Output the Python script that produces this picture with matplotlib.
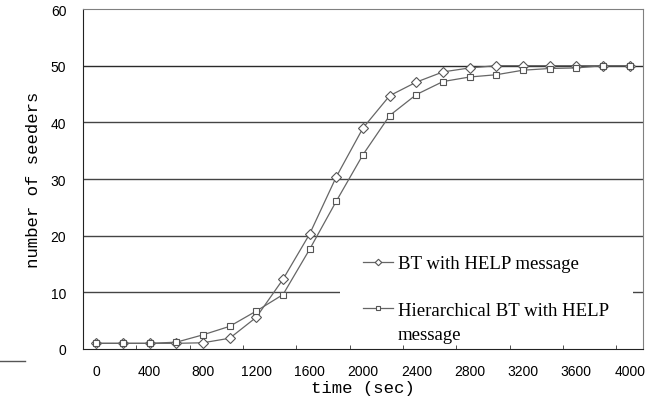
import matplotlib
matplotlib.use("Agg")
import matplotlib.pyplot as plt
from matplotlib.lines import Line2D
from matplotlib.patches import Rectangle

# time axis (sec) and number of seeders for both runs
times = [0, 200, 400, 600, 800, 1000, 1200, 1400, 1600, 1800, 2000,
         2200, 2400, 2600, 2800, 3000, 3200, 3400, 3600, 3800, 4000]
bt_help = [1, 1, 1, 1, 1.1, 1.9, 5.6, 12.3, 20.3, 30.4, 39,
           44.7, 47.1, 48.9, 49.6, 50, 50, 50, 50, 50, 50]
hier_bt_help = [1, 1, 1, 1.2, 2.5, 4, 6.7, 9.6, 17.6, 26.1, 34.3,
                41.2, 44.9, 47.2, 48, 48.4, 49.2, 49.5, 49.6, 50, 50]

x_labels = list(range(0, 4001, 400))
x_minor = list(range(300, 4000, 400))
y_ticks = list(range(0, 61, 10))

fig = plt.figure(figsize=(6.48, 4.02), dpi=100)
ax = fig.add_axes([83 / 648, 1 - 350 / 402, 560 / 648, 340 / 402])

# horizontal grid lines
for yv in y_ticks[1:-1]:
    ax.axhline(yv, color='#2a2a2a' if yv == 50 else '#444444', lw=1.0, zorder=1)

ax.plot(times, bt_help, color='#666666', lw=0.9, marker='D', markersize=5.5,
        markerfacecolor='white', markeredgecolor='#555555', markeredgewidth=0.8,
        label='BT with HELP message', zorder=3)
ax.plot(times, hier_bt_help, color='#666666', lw=0.9, marker='s', markersize=5,
        markerfacecolor='white', markeredgecolor='#555555', markeredgewidth=0.8,
        label='Hierarchical BT with HELP', zorder=3)

ax.set_xlim(-100, 4100)
ax.set_ylim(0, 60)
ax.set_xticks(x_labels)
ax.set_xticks(x_minor, minor=True)
ax.set_yticks(y_ticks)
ax.tick_params(axis='x', which='major', length=0, pad=11, labelsize=10)
ax.tick_params(axis='x', which='minor', direction='in', length=3, color='#333333')
ax.tick_params(axis='y', length=0, pad=12, labelsize=10)
for lab in ax.get_xticklabels() + ax.get_yticklabels():
    lab.set_family('Liberation Sans')

for side in ['top', 'right']:
    ax.spines[side].set_color('#808080')
for side in ['left', 'bottom']:
    ax.spines[side].set_color('#222222')

ax.set_xlabel('time (sec)', family='Liberation Mono', fontsize=12.5, labelpad=1)
ax.set_ylabel('number of seeders', family='Liberation Mono', fontsize=12.5,
              va='center')
ax.yaxis.set_label_coords(-0.089, 0.5)

# white block behind the legend hides part of the grid
ax.add_patch(Rectangle((340 / 648, 1 - 345 / 402), 293 / 648, 105 / 402,
                       transform=fig.transFigure, facecolor='white',
                       edgecolor='none', zorder=2))

leg = ax.legend(loc='upper left', bbox_to_anchor=(363 / 648, 1 - 256 / 402),
                bbox_transform=fig.transFigure, frameon=False,
                prop={'family': 'Liberation Serif', 'size': 13.5},
                handlelength=1.6, handletextpad=0.27, labelspacing=1.57,
                borderpad=0, borderaxespad=0, markerscale=0.6)
leg.set_zorder(5)
# second line of the wrapped legend label
fig.text(398 / 648, 1 - 335 / 402, 'message', family='Liberation Serif',
         fontsize=13.5, va='center', ha='left', zorder=6)

# short stray line at the lower left of the original figure
fig.add_artist(Line2D([0, 25 / 648], [1 - 362 / 402, 1 - 362 / 402],
                      color='#555555', lw=1.0))

fig.savefig('out.png', dpi=100)
